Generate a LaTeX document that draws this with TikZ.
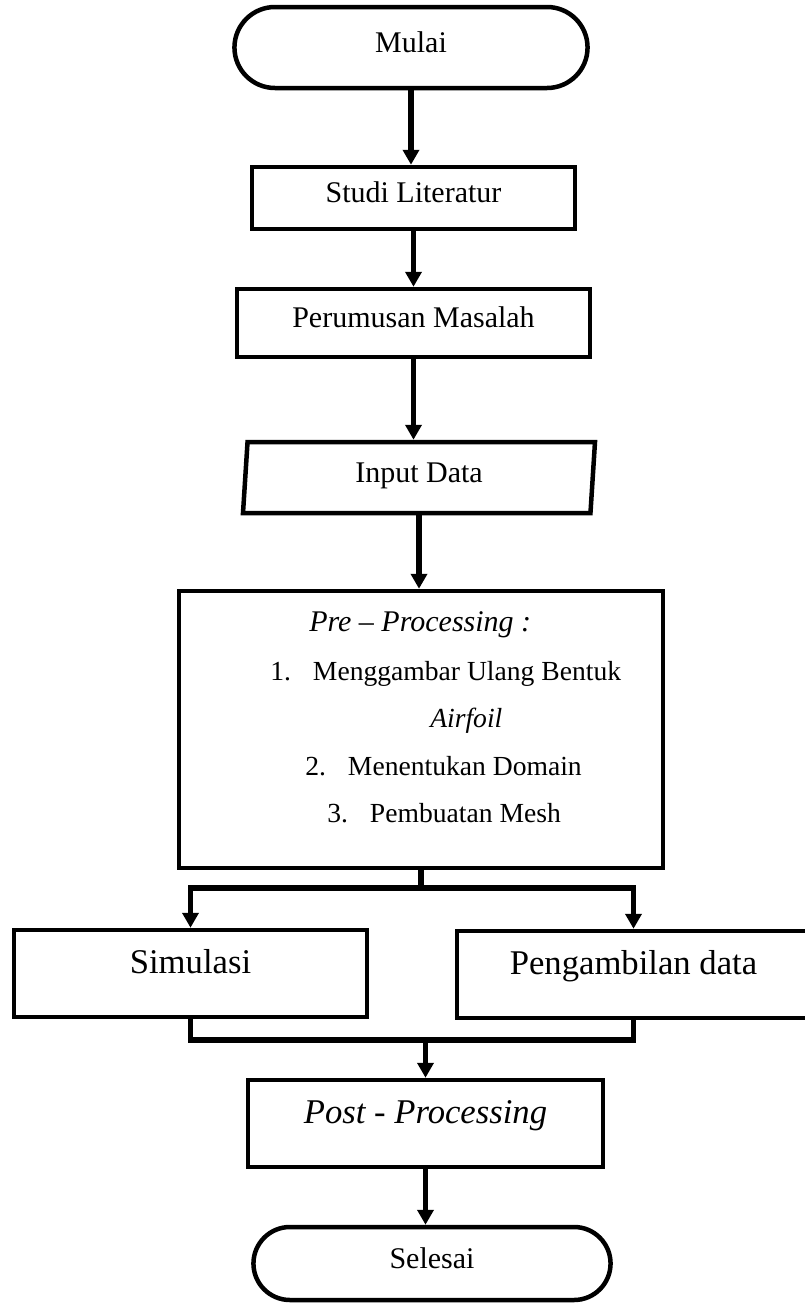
\documentclass[tikz,border=0pt]{standalone}
\usepackage{fontspec}
\setmainfont{Liberation Serif}
\usepackage{tikz}
\usetikzlibrary{positioning, shapes.geometric, shapes.misc, arrows.meta}

\newdimen\px \px=0.75pt

\tikzset{
  boxline/.style={draw, line width=4.5\px},
  flowarrow/.style={line width=5.5\px, -{Triangle[length=11.25pt, width=12pt]}},
  flowline/.style={line width=5.5\px},
  terminal/.style={rounded rectangle, boxline, font=\fontsize{22.5pt}{27pt}\selectfont, text height=0.7em, text depth=0pt},
  process/.style={rectangle, boxline, font=\fontsize{22.5pt}{27pt}\selectfont, text height=0.7em, text depth=0pt},
  bigprocess/.style={process, font=\fontsize{26pt}{31pt}\selectfont, text height=0.7em, text depth=0.7em},
  iobox/.style={trapezium, trapezium left angle=76, trapezium right angle=104, trapezium stretches body, boxline, font=\fontsize{22.5pt}{27pt}\selectfont, text height=0.7em, text depth=0pt},
  listitem/.style={anchor=base west, inner sep=0pt, font=\fontsize{20.7pt}{25pt}\selectfont},
}

\begin{document}
\begin{tikzpicture}[x=1\px, y=-1\px]
  \useasboundingbox (0,0) rectangle (805,1304);

  % main column
  \node[terminal, minimum width=362\px, minimum height=81\px] (mulai) at (411,47.5) {Mulai};
  \node[process, minimum width=323\px, minimum height=62\px] (studi) at (413.5,198) {Studi Literatur};
  \node[process, minimum width=353\px, minimum height=68\px] (rumus) at (413.5,323) {Perumusan Masalah};
  \node[iobox, minimum width=352\px, minimum height=71\px] (input) at (419,477.5) {Input Data};
  \node[process, minimum width=484\px, minimum height=277\px] (pre) at (421,729.5) {};

  % pre-processing steps
  \node[listitem, font=\fontsize{22.5pt}{27pt}\selectfont\itshape] (pretitle) at (309,631) {Pre – Processing :};
  \node[listitem] (step1) at (270,680) {1.\hspace{16.5pt}Menggambar Ulang Bentuk};
  \node[listitem, font=\fontsize{20.7pt}{25pt}\selectfont\itshape] (step1b) at (430,727) {Airfoil};
  \node[listitem] (step2) at (305,775) {2.\hspace{16.5pt}Menentukan Domain};
  \node[listitem] (step3) at (327,822) {3.\hspace{16.5pt}Pembuatan Mesh};

  % branches
  \node[bigprocess, minimum width=353\px, minimum height=87\px] (simulasi) at (190.5,973.5) {Simulasi};
  \node[bigprocess, minimum width=353\px, minimum height=87\px] (ambil) at (633.5,974.5) {Pengambilan data};
  \node[bigprocess, minimum width=355\px, minimum height=87\px] (post) at (425.5,1123.5) {\itshape Post - Processing};
  \node[terminal, minimum width=366\px, minimum height=73\px] (selesai) at (432,1263.5) {Selesai};

  \coordinate (fork) at (421,888);
  \coordinate (merge) at (425.5,1040);

  % connectors
  \draw[flowarrow] (mulai.south) -- (mulai.south |- studi.north);
  \draw[flowarrow] (studi.south) -- (studi.south |- rumus.north);
  \draw[flowarrow] (rumus.south) -- (rumus.south |- input.north);
  \draw[flowarrow] (input.south) -- (input.south |- pre.north);
  \draw[flowline] (pre.south) -- (fork);
  \draw[flowarrow] (fork) -| (simulasi.north);
  \draw[flowarrow] (fork) -| (ambil.north);
  \draw[flowline] (simulasi.south) |- (merge);
  \draw[flowline] (ambil.south) |- (merge);
  \draw[flowarrow] (merge) -- (post.north);
  \draw[flowarrow] (post.south) -- (post.south |- selesai.north);
\end{tikzpicture}
\end{document}
